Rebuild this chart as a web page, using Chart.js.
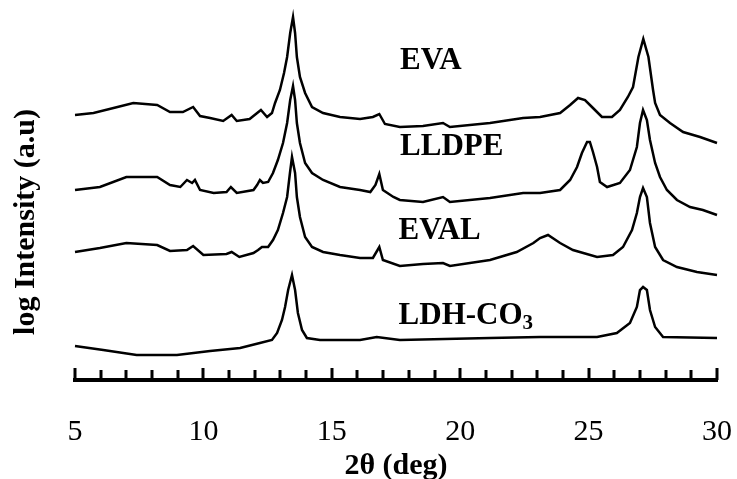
<!DOCTYPE html>
<html>
<head>
<meta charset="utf-8">
<script src="https://cdn.jsdelivr.net/npm/chart.js@4"></script>
<style>
  html, body { margin: 0; padding: 0; background: #fff; }
  #c { display: block; }
</style>
</head>
<body>
<canvas id="c" width="737" height="479"></canvas>
<script>
// ---- data (2θ in degrees, log intensity in arbitrary units, curves offset) ----
const evaX = [5.0,5.72,6.5,7.27,8.2,8.7,9.2,9.6,9.87,10.26,10.77,11.1,11.3,11.8,12.24,12.48,12.67,12.79,12.98,13.14,13.26,13.38,13.49,13.57,13.64,13.76,13.96,14.23,14.66,15.32,16.1,16.6,16.85,17.07,17.65,18.55,19.33,19.6,21.16,22.45,23.11,23.89,24.28,24.59,24.86,25.17,25.52,25.91,26.22,26.53,26.73,26.94,27.13,27.33,27.51,27.59,27.78,28.17,28.68,29.34,30.0];
const evaY = [265,267,272,277,275,268,268,273,264,262,259,265,259,261,270,263,267,277,290,307,323,347,363,347,323,303,287,273,267,263,261,263,266,256,253,254,257,253,257,262,263,267,275,282,280,272,263,263,270,283,293,323,341,323,290,277,265,257,248,243,237];

const lldpeX = [5.0,5.97,7.0,8.2,8.7,9.1,9.36,9.56,9.67,9.87,10.4,10.9,11.07,11.3,11.95,12.09,12.2,12.32,12.52,12.71,12.9,13.1,13.26,13.38,13.49,13.57,13.64,13.76,13.96,14.23,14.66,15.32,16.1,16.5,16.7,16.85,16.99,17.4,17.65,18.55,19.33,19.6,21.16,22.45,23.11,23.89,24.28,24.55,24.74,24.94,25.05,25.17,25.33,25.44,25.72,26.22,26.61,26.88,27.0,27.12,27.27,27.39,27.59,27.78,28.05,28.44,28.95,29.45,30.0];
const lldpeY = [190,193,203,203,195,193,200,197,200,190,187,188,193,187,190,195,200,197,198,207,220,237,257,280,294,280,257,237,217,207,200,193,190,188,195,206,190,183,180,178,183,178,182,187,187,190,200,213,227,238,238,228,213,198,193,197,210,233,257,270,260,240,217,203,190,180,173,170,165];

const evalX = [5.0,5.97,7.0,8.2,8.7,9.36,9.6,10.0,10.9,11.1,11.4,11.95,12.13,12.28,12.52,12.71,12.9,13.1,13.26,13.37,13.45,13.57,13.64,13.76,13.96,14.23,14.66,15.32,16.1,16.6,16.85,16.99,17.65,18.55,19.33,19.6,21.16,22.2,22.85,23.11,23.42,23.89,24.39,25.33,25.95,26.34,26.69,26.88,27.0,27.12,27.27,27.39,27.59,27.9,28.44,29.22,30.0];
const evalY = [128,132,137,135,129,130,134,125,126,128,123,127,130,133,133,140,150,167,183,207,223,207,183,163,143,133,128,125,122,122,133,120,114,116,117,114,120,128,137,142,145,137,130,123,125,133,150,167,183,192,183,157,133,120,113,108,105];

const ldhX = [5.0,6.1,7.4,8.97,10.26,11.43,12.2,12.67,12.87,13.06,13.18,13.3,13.45,13.57,13.68,13.84,14.03,14.54,16.1,16.75,17.65,21.16,23.11,25.33,26.1,26.61,26.88,27.0,27.12,27.27,27.39,27.59,27.9,30.0];
const ldhY = [34,30,25,25,29,32,37,40,47,60,73,90,105,90,67,50,42,40,40,43,40,42,43,43,47,57,73,90,93,90,70,53,43,42];

const seriesNames = ["EVA", "LLDPE", "EVAL", "LDH-CO"];
const seriesSub   = ["", "", "", "3"];
const labelX = [17.66, 17.66, 17.6, 17.6];   // 2θ where each curve's name starts
const labelY = [319, 233, 149, 64];          // a.u. level of each name
const xTickLabels = [5, 10, 15, 20, 25, 30];
const xTitle = "2θ (deg)";
const yTitle = "log Intensity (a.u)";

function pts(xs, ys) { return xs.map((x, i) => ({ x: x, y: ys[i] })); }

const serif = "'Liberation Serif', 'Times New Roman', serif";

const tickMarks = {
  id: 'tickMarks',
  afterDraw(chart) {
    const xs = chart.scales.x;
    const ctx = chart.ctx;
    const y0 = chart.chartArea.bottom;
    ctx.save();
    ctx.strokeStyle = '#000';
    ctx.lineWidth = 3;
    for (let v = xs.min; v <= xs.max; v++) {
      const px = Math.round(xs.getPixelForValue(v));
      const h = (v % 5 === 0) ? 12 : 10;
      ctx.beginPath();
      ctx.moveTo(px, y0);
      ctx.lineTo(px, y0 - h);
      ctx.stroke();
    }
    ctx.restore();
  }
};

const curveNames = {
  id: 'curveNames',
  afterDraw(chart) {
    const xs = chart.scales.x, ys = chart.scales.y;
    const ctx = chart.ctx;
    ctx.save();
    ctx.fillStyle = '#000';
    ctx.textBaseline = 'middle';
    ctx.textAlign = 'left';
    seriesNames.forEach((name, i) => {
      const px = xs.getPixelForValue(labelX[i]);
      const py = ys.getPixelForValue(labelY[i]);
      ctx.font = "bold 31px " + serif;
      ctx.fillText(name, px, py);
      if (seriesSub[i]) {
        const w = ctx.measureText(name).width;
        ctx.font = "bold 21px " + serif;
        ctx.fillText(seriesSub[i], px + w, py + 8);
      }
    });
    ctx.restore();
  }
};

const whiteBg = {
  id: 'whiteBg',
  beforeDraw(chart) {
    const ctx = chart.ctx;
    ctx.save();
    ctx.fillStyle = '#fff';
    ctx.fillRect(0, 0, chart.width, chart.height);
    ctx.restore();
  }
};

const lineStyle = { borderColor: '#000', borderWidth: 2.5, pointRadius: 0, tension: 0, fill: false, clip: false };

new Chart(document.getElementById('c'), {
  type: 'line',
  data: {
    datasets: [
      Object.assign({ label: 'EVA', data: pts(evaX, evaY) }, lineStyle),
      Object.assign({ label: 'LLDPE', data: pts(lldpeX, lldpeY) }, lineStyle),
      Object.assign({ label: 'EVAL', data: pts(evalX, evalY) }, lineStyle),
      Object.assign({ label: 'LDH-CO3', data: pts(ldhX, ldhY) }, lineStyle)
    ]
  },
  options: {
    responsive: false,
    animation: false,
    devicePixelRatio: 1,
    layout: { padding: { top: 64, right: 20, bottom: 0, left: 0 } },
    plugins: { legend: { display: false }, tooltip: { enabled: false } },
    scales: {
      x: {
        type: 'linear',
        min: 5, max: 30,
        afterFit(scale) { scale.height = 99; scale.paddingLeft = 0; scale.paddingRight = 0; },
        afterBuildTicks(scale) { scale.ticks = xTickLabels.map(v => ({ value: v })); },
        grid: { display: true, drawOnChartArea: false, drawTicks: false },
        border: { display: true, color: '#000', width: 4 },
        ticks: {
          autoSkip: false, maxRotation: 0, padding: 34, color: '#000',
          font: { family: serif, size: 30 }
        },
        title: {
          display: true, text: xTitle, color: '#000',
          font: { family: serif, size: 30, weight: 'bold', lineHeight: 1 },
          padding: { top: 0, bottom: -2 }
        }
      },
      y: {
        type: 'linear',
        min: 0, max: 316,
        afterFit(scale) { scale.width = 75; },
        grid: { display: false },
        border: { display: false },
        ticks: { display: false },
        title: {
          display: true, text: yTitle, color: '#000',
          font: { family: serif, size: 30, weight: 'bold', lineHeight: 1.2 },
          padding: { top: 8, bottom: 0 }
        }
      }
    }
  },
  plugins: [whiteBg, tickMarks, curveNames]
});
</script>
</body>
</html>
